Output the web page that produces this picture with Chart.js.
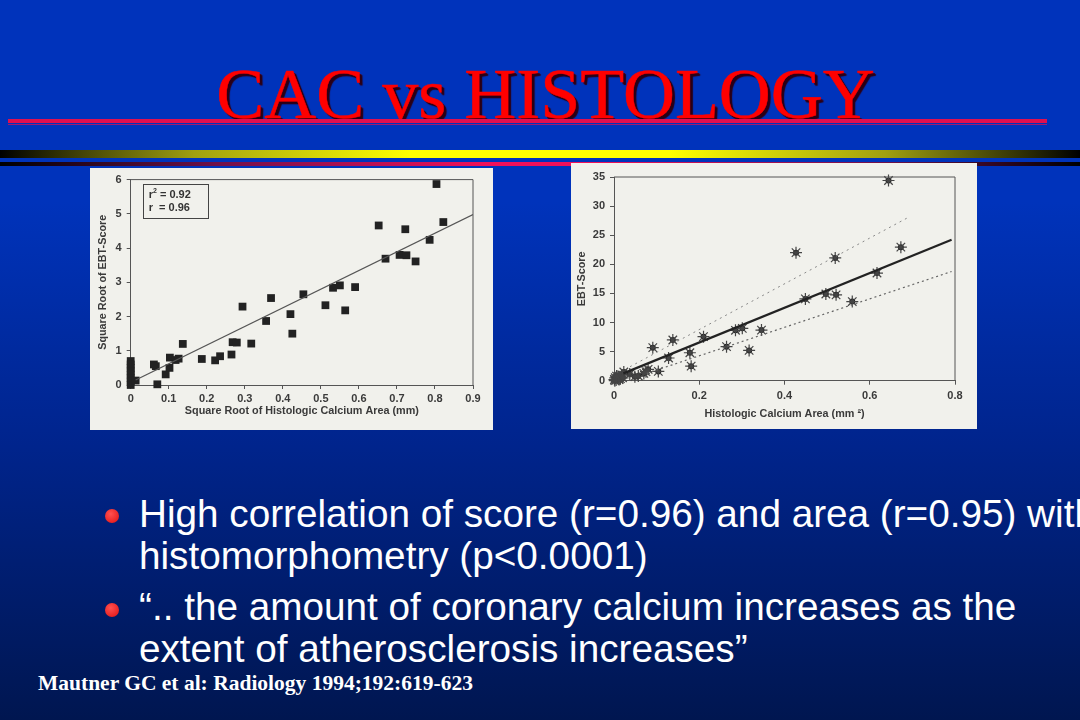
<!DOCTYPE html>
<html><head><meta charset="utf-8">
<script src="https://cdn.jsdelivr.net/npm/chart.js@4"></script>
<style>
html,body{margin:0;padding:0;background:#001a55}
#slide{position:relative;width:1080px;height:720px;overflow:hidden;background:linear-gradient(180deg,#0033bb 0%,#0033bb 28%,#00248c 62%,#001650 100%)}
#slide div{position:absolute}
#title{left:0;width:1091px;top:54px;text-align:center;font:72px "Liberation Serif",serif;color:#f00;-webkit-text-stroke:.5px #f00;text-shadow:3px 3px 1px #2a0016,2px 2px 0 #500018;white-space:nowrap;line-height:80px}
#rule1{left:8px;width:1039px;top:119px;height:4px;background:#e0104f}
#rule1b{left:8px;width:1039px;top:124px;height:1px;background:#a01a70}
#band1{left:0;width:1080px;top:150px;height:8px;background:linear-gradient(90deg,#000 0%,#a0a010 18%,#ffff00 38%,#ffff00 62%,#a0a010 82%,#000 100%)}
#band2{left:0;width:1080px;top:162px;height:4px;background:linear-gradient(90deg,#000 0%,#70104a 20%,#f0105a 45%,#f0105a 55%,#70104a 82%,#000 100%)}
.panel{background:#f1f1ec;filter:blur(.55px)}
#p1{left:90px;top:168px;width:403px;height:262px}
#p2{left:571px;top:163px;width:406px;height:266px}
canvas{display:block}
.bt{left:139px;width:960px;font:38.7px/42px "Liberation Sans",sans-serif;color:#fff;white-space:nowrap}
.bu{width:14px;height:14px;border-radius:50%;background:radial-gradient(circle at 40% 35%,#ff5050,#e01010);left:105px}
#cite{left:38px;top:671px;font:bold 21.5px "Liberation Serif",serif;color:#fff;white-space:nowrap}
#stat{left:52.7px;top:16px;width:59px;height:30px;border:1px solid #444;font:bold 11px/12.5px "Liberation Sans",sans-serif;color:#333;padding:3px 0 0 5px;box-sizing:content-box}
#stat sup{font-size:7px;line-height:0}
</style></head><body>
<div id="slide">
<div id="title">CAC vs HISTOLOGY</div>
<div id="rule1"></div><div id="rule1b"></div>
<div id="band1"></div><div id="band2"></div>
<div class="panel" id="p1"><canvas id="c1" width="403" height="262"></canvas>
<div id="stat">r<sup>2</sup> = 0.92<br>r &nbsp;= 0.96</div></div>
<div class="panel" id="p2"><canvas id="c2" width="406" height="266"></canvas></div>
<div class="bu" style="top:509px"></div>
<div class="bt" style="top:493px">High correlation of score (r=0.96) and area (r=0.95) with<br>histomorphometry (p&lt;0.0001)</div>
<div class="bu" style="top:603px"></div>
<div class="bt" style="top:586px">“.. the amount of coronary calcium increases as the<br>extent of atherosclerosis increases”</div>
<div id="cite">Mautner GC et al: Radiology 1994;192:619-623</div>
</div>
<script>
const leftX=[0,0,0,0,0,0,0,0,.013,.061,.066,.07,.092,.102,.103,.118,.126,.137,.187,.222,.235,.265,.268,.279,.294,.317,.356,.369,.42,.425,.454,.512,.532,.55,.564,.59,.652,.67,.707,.722,.725,.749,.786,.804,.822];
const leftY=[.7,.6,.5,.4,.3,.2,.1,0,.13,.6,.55,.02,.31,.5,.8,.73,.77,1.2,.76,.72,.84,.89,1.25,1.24,2.29,1.21,1.87,2.54,2.07,1.5,2.65,2.33,2.84,2.91,2.18,2.86,4.66,3.69,3.8,4.55,3.79,3.61,4.24,5.87,4.76];
const leftFitX=[.013,.9];
const leftFitY=[.146,4.98];
const rightX=[.644,.673,.427,.519,.617,.449,.497,.521,.559,.346,.301,.285,.21,.138,.091,.264,.317,.178,.128,.181,.104,.08,.075,.07,.057,.049,.037,.023,.014,.018,.001,.003,.005,.008,.01,.012,.015,.02,.002,.006];
const rightY=[34.4,22.95,22,21.1,18.5,14.05,14.9,14.75,13.6,8.7,9,8.66,7.57,7,5.68,5.85,5.2,4.8,3.9,2.5,1.6,1.95,1.55,1.25,.8,.7,1.15,1.5,.7,1,.2,.5,.1,.4,.7,.2,.35,.5,0,.8];
const rightFitX=[.022,.792];
const rightFitY=[1.26,24.2];
const upperX=[.0375,.694];
const upperY=[2.4,28.2];
const lowerX=[.077,.792];
const lowerY=[1.26,18.76];
const zip=(a,b)=>a.map((v,i)=>({x:v,y:b[i]}));
const ink='#3a3a3a';
const frame={id:'frame',afterDraw(c){const a=c.chartArea,g=c.ctx;g.save();g.strokeStyle='#555';g.lineWidth=1;g.beginPath();g.moveTo(a.left,a.top);g.lineTo(a.right,a.top);g.lineTo(a.right,a.bottom);g.stroke();g.restore();}};
function make(id,sets,xr,yr,xt,yt,pad,w,h,xpad,ypad){
 const tick={family:'"Liberation Sans"',size:11,weight:'bold'};
 const fnt={family:'"Liberation Sans"',size:10.8,weight:'bold'};
 return new Chart(document.getElementById(id),{type:'scatter',data:{datasets:sets},plugins:[frame],options:{
  responsive:false,animation:false,layout:{padding:pad},
  plugins:{legend:{display:false},tooltip:{enabled:false}},
  scales:{
   x:{type:'linear',min:xr[0],max:xr[1],afterFit:s=>{s.height=h},grid:{drawOnChartArea:false,color:'#555',tickLength:4},border:{color:'#555'},
      ticks:{stepSize:xr[2],autoSkip:false,color:ink,font:tick,maxRotation:0,padding:xpad,callback:v=>String(+v.toFixed(1))},
      title:{display:true,text:xt,color:ink,font:fnt,padding:{top:2,bottom:0}}},
   y:{type:'linear',min:yr[0],max:yr[1],afterFit:s=>{s.width=w},grid:{drawOnChartArea:false,color:'#555',tickLength:4},border:{color:'#555'},
      ticks:{stepSize:yr[2],autoSkip:false,color:ink,font:tick,padding:ypad},
      title:{display:true,text:yt,color:ink,font:fnt,padding:{top:0,bottom:2}}}
  }}});
}
make('c1',[
 {data:zip(leftFitX,leftFitY),showLine:true,borderColor:'#555',borderWidth:1.3,pointRadius:0},
 {data:zip(leftX,leftY),pointStyle:'rect',pointRadius:5.5,backgroundColor:'#222',borderColor:'#222',borderWidth:0,clip:false}
],[0,.9,.1],[0,6,1],'Square Root of Histologic Calcium Area (mm)','Square Root of EBT-Score',{top:11,right:20,left:7,bottom:12},33.7,33,3,5);
make('c2',[
 {data:zip(rightFitX,rightFitY),showLine:true,borderColor:'#222',borderWidth:2.2,pointRadius:0},
 {data:zip(upperX,upperY),showLine:true,borderColor:'#888',borderWidth:1,borderDash:[2,4],pointRadius:0},
 {data:zip(lowerX,lowerY),showLine:true,borderColor:'#666',borderWidth:1.2,borderDash:[2,3],pointRadius:0},
 {data:zip(rightX,rightY),pointStyle:'star',pointRadius:6,borderColor:'#444',borderWidth:1.2,backgroundColor:'#444',clip:false},
 {data:zip(rightX,rightY),pointStyle:'circle',pointRadius:3,borderWidth:0,backgroundColor:'#1c1c1c',clip:false}
],[0,.8,.2],[0,35,5],'Histologic Calcium Area (mm ²)','EBT-Score',{top:14,right:22,left:5,bottom:8},38,40.3,5,5);
</script>
</body></html>
